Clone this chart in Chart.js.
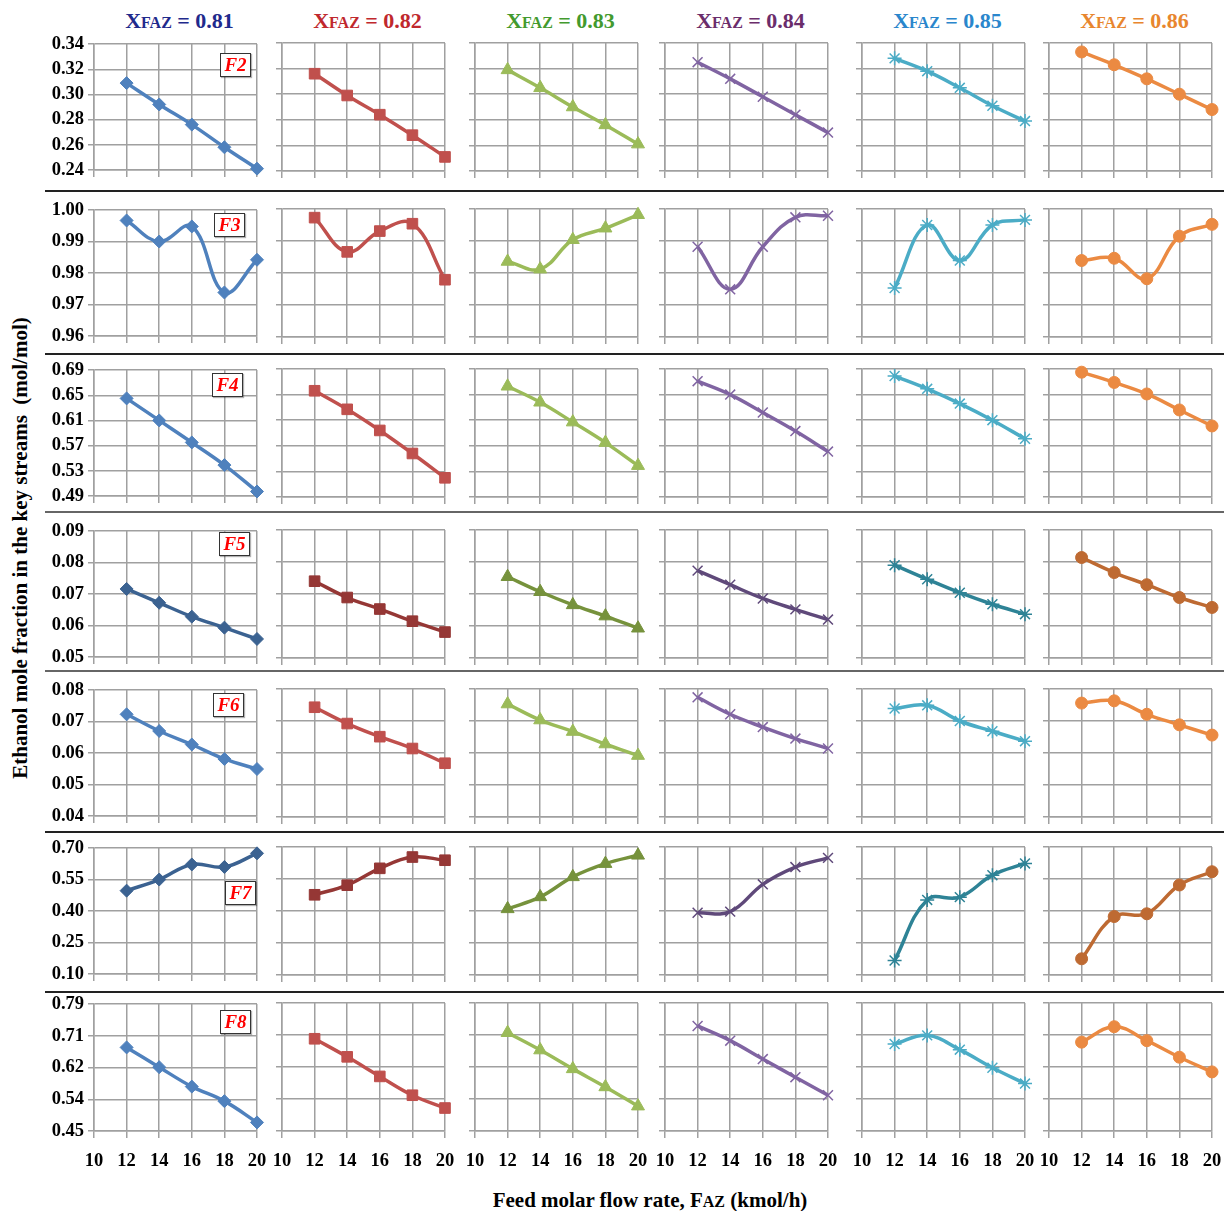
<!DOCTYPE html>
<html>
<head>
<meta charset="utf-8">
<script src="https://cdn.jsdelivr.net/npm/chart.js@4.4.0/dist/chart.umd.min.js"></script>
<style>
  body { margin: 0; background: #fff; }
  #page {
    position: relative; width: 1224px; height: 1211px; overflow: hidden; background: #fff;
    font-family: "Liberation Serif", "Times New Roman", serif; font-weight: bold; color: #000;
  }
  #page canvas { position: absolute; }
  .head { position: absolute; top: 8px; width: 200px; text-align: center; font-size: 22px; line-height: 26px; white-space: nowrap; }
  .head .small { font-size: 16px; }
  .small { font-size: 15px; }
  .sep { position: absolute; left: 45px; right: 0; height: 2px; }
  .tag {
    position: absolute; width: 29px; height: 22px; border: 1.5px solid #333; background: #fff;
    color: #f00; font-style: italic; font-size: 19px; line-height: 22px; text-align: center;
    box-shadow: 1px 1px 1px rgba(0,0,0,0.3);
  }
  #ytitle {
    position: absolute; left: -250px; top: 535px; width: 540px; text-align: center;
    font-size: 21px; line-height: 26px; transform: rotate(-90deg); white-space: nowrap;
  }
  #xtitle { position: absolute; left: 400px; top: 1187px; width: 500px; text-align: center; font-size: 21px; line-height: 26px; white-space: nowrap; }
  #xtitle .small { font-size: 16px; }
</style>
</head>
<body>
<div id="page">
  <div id="ytitle">Ethanol mole fraction in the key streams&nbsp;&nbsp;(mol/mol)</div>
  <div id="xtitle">Feed molar flow rate, F<span class="small">AZ</span> (kmol/h)</div>
</div>
<script>
// feed molar flow rate (kmol/h) and the XFAZ value of each column
const flowRates = [12, 14, 16, 18, 20];
const flowTicks = ['10', '12', '14', '16', '18', '20'];
const xfazLabels = ['0.81', '0.82', '0.83', '0.84', '0.85', '0.86'];
const streamNames = ['F2', 'F3', 'F4', 'F5', 'F6', 'F7', 'F8'];

// ethanol mole fraction, one row per XFAZ (0.81 .. 0.86), one value per flow rate
const f2Values = [
  [0.309, 0.292, 0.276, 0.258, 0.241],
  [0.316, 0.299, 0.284, 0.268, 0.251],
  [0.319, 0.305, 0.290, 0.276, 0.261],
  [0.325, 0.312, 0.298, 0.284, 0.270],
  [0.328, 0.318, 0.305, 0.291, 0.279],
  [0.333, 0.323, 0.312, 0.300, 0.288]
];
const f3Values = [
  [0.9967, 0.9900, 0.9948, 0.9738, 0.9842],
  [0.9973, 0.9866, 0.9931, 0.9954, 0.9779],
  [0.9836, 0.9812, 0.9904, 0.9940, 0.9982],
  [0.9882, 0.9749, 0.9882, 0.9974, 0.9979],
  [0.9753, 0.9950, 0.9839, 0.9950, 0.9966],
  [0.9839, 0.9846, 0.9782, 0.9915, 0.9952]
];
const f4Values = [
  [0.645, 0.610, 0.575, 0.539, 0.497],
  [0.656, 0.627, 0.594, 0.558, 0.520],
  [0.663, 0.638, 0.607, 0.575, 0.539],
  [0.671, 0.650, 0.622, 0.593, 0.561],
  [0.679, 0.659, 0.636, 0.610, 0.581],
  [0.685, 0.669, 0.651, 0.626, 0.601]
];
const f5Values = [
  [0.0716, 0.0672, 0.0628, 0.0593, 0.0557],
  [0.0740, 0.0689, 0.0653, 0.0615, 0.0581],
  [0.0754, 0.0707, 0.0666, 0.0631, 0.0593],
  [0.0773, 0.0729, 0.0686, 0.0652, 0.0620],
  [0.0790, 0.0746, 0.0704, 0.0668, 0.0637],
  [0.0814, 0.0767, 0.0729, 0.0689, 0.0658]
];
const f6Values = [
  [0.0723, 0.0670, 0.0627, 0.0581, 0.0549],
  [0.0743, 0.0692, 0.0651, 0.0614, 0.0568],
  [0.0753, 0.0703, 0.0667, 0.0628, 0.0592],
  [0.0774, 0.0721, 0.0681, 0.0645, 0.0614],
  [0.0739, 0.0749, 0.0700, 0.0668, 0.0637],
  [0.0756, 0.0763, 0.0721, 0.0688, 0.0656]
];
const f7Values = [
  [0.497, 0.550, 0.622, 0.610, 0.675],
  [0.476, 0.521, 0.600, 0.653, 0.638],
  [0.410, 0.466, 0.560, 0.622, 0.661],
  [0.392, 0.397, 0.525, 0.606, 0.649],
  [0.168, 0.452, 0.465, 0.568, 0.623],
  [0.176, 0.374, 0.387, 0.522, 0.584]
];
const f8Values = [
  [0.674, 0.621, 0.569, 0.530, 0.473],
  [0.695, 0.647, 0.595, 0.545, 0.511],
  [0.711, 0.665, 0.615, 0.567, 0.516],
  [0.729, 0.690, 0.641, 0.593, 0.545],
  [0.681, 0.704, 0.666, 0.618, 0.576],
  [0.686, 0.727, 0.690, 0.646, 0.607]
];

// y tick labels of each row, bottom to top
const f2Ticks = ['0.24', '0.26', '0.28', '0.30', '0.32', '0.34'];
const f3Ticks = ['0.96', '0.97', '0.98', '0.99', '1.00'];
const f4Ticks = ['0.49', '0.53', '0.57', '0.61', '0.65', '0.69'];
const f5Ticks = ['0.05', '0.06', '0.07', '0.08', '0.09'];
const f6Ticks = ['0.04', '0.05', '0.06', '0.07', '0.08'];
const f7Ticks = ['0.10', '0.25', '0.40', '0.55', '0.70'];
const f8Ticks = ['0.45', '0.54', '0.62', '0.71', '0.79'];

const rowValues = [f2Values, f3Values, f4Values, f5Values, f6Values, f7Values, f8Values];
const rowTicks = [f2Ticks, f3Ticks, f4Ticks, f5Ticks, f6Ticks, f7Ticks, f8Ticks];

// styling / layout
const lineColors = ['#4F81BD', '#C0504D', '#9BBB59', '#8064A2', '#4BACC6', '#EB8A42'];
const darkColors = ['#3B6291', '#953735', '#76923C', '#5F497A', '#2E8396', '#BE6A32'];
const darkRows = [3, 5];
const headColors = ['#1F2A8C', '#C0282D', '#439A2E', '#6B2D6B', '#2A86CC', '#E8862E'];
const markers = ['rectRot', 'rect', 'triangle', 'crossRot', 'star', 'circle'];
const markerSizes = [6.5, 7.5, 7.5, 7, 7, 6];
const plotLefts = [94, 282, 475, 665, 862, 1049];
const plotTops = [43, 209, 369, 530, 689, 847, 1003];
const plotW = 163, plotH = 128;
const sepTops = [190, 353, 511, 670, 831, 991];
const sepColors = ['#222', '#222', '#666', '#666', '#222', '#222'];
const tagBoxes = [[220, 53], [214, 213], [212, 373], [219, 532], [213, 693], [225, 881], [220, 1010]];
const gridColor = '#a0a0a0';
const tickFont = { family: "'Liberation Serif', 'Times New Roman', serif", size: 18.5, weight: 'bold' };

const page = document.getElementById('page');

sepTops.forEach((t, i) => {
  const d = document.createElement('div');
  d.className = 'sep';
  d.style.top = t + 'px';
  d.style.background = sepColors[i];
  page.appendChild(d);
});

xfazLabels.forEach((lab, c) => {
  const d = document.createElement('div');
  d.className = 'head';
  d.style.left = (plotLefts[c] + plotW / 2 + 4 - 100) + 'px';
  d.style.color = headColors[c];
  d.innerHTML = 'X<span class="small">FAZ</span> = ' + lab;
  page.appendChild(d);
});

function makePanel(r, c) {
  const showY = c === 0, showX = r === 6;
  const yW = showY ? 60 : (showX ? 26 : 12);
  const xH = showX ? 42 : 14;
  const padTop = 14, padRight = showX ? 26 : 16;
  const canvas = document.createElement('canvas');
  canvas.width = yW + plotW + padRight;
  canvas.height = padTop + plotH + xH;
  canvas.style.left = (plotLefts[c] - yW) + 'px';
  canvas.style.top = (plotTops[r] - padTop) + 'px';
  page.appendChild(canvas);

  const labels = rowTicks[r];
  const yMin = parseFloat(labels[0]);
  const yMax = parseFloat(labels[labels.length - 1]);
  const col = darkRows.includes(r) ? darkColors[c] : lineColors[c];
  const thin = markers[c] === 'crossRot' || markers[c] === 'star';

  new Chart(canvas, {
    type: 'line',
    data: {
      datasets: [{
        data: flowRates.map((x, i) => ({ x, y: rowValues[r][c][i] })),
        borderColor: col,
        backgroundColor: col,
        borderWidth: 3.5,
        tension: 0.4,
        pointStyle: markers[c],
        pointRadius: markerSizes[c],
        pointBackgroundColor: col,
        pointBorderColor: col,
        pointBorderWidth: thin ? 1.5 : 1,
        clip: false
      }]
    },
    options: {
      responsive: false,
      animation: false,
      devicePixelRatio: 1,
      layout: { padding: { top: padTop, right: padRight, left: 0, bottom: 0 } },
      plugins: { legend: { display: false }, tooltip: { enabled: false } },
      scales: {
        x: {
          type: 'linear', min: 10, max: 20,
          ticks: {
            stepSize: 2, display: showX, font: tickFont, color: '#000',
            padding: 12, maxRotation: 0, autoSkip: false,
            callback: (v, i) => flowTicks[i]
          },
          grid: { color: gridColor, lineWidth: 1.5, tickLength: 7 },
          border: { color: gridColor, width: 1.5 },
          afterFit: s => { s.height = xH; }
        },
        y: {
          min: yMin, max: yMax,
          ticks: {
            stepSize: (yMax - yMin) / (labels.length - 1), display: showY,
            font: tickFont, color: '#000', padding: 4, autoSkip: false,
            callback: (v, i) => labels[i]
          },
          grid: { color: gridColor, lineWidth: 1.5, tickLength: 6 },
          border: { color: gridColor, width: 1.5 },
          afterFit: s => { s.width = yW; }
        }
      }
    }
  });
}

for (let r = 0; r < streamNames.length; r++) {
  for (let c = 0; c < xfazLabels.length; c++) makePanel(r, c);
}

streamNames.forEach((name, r) => {
  const d = document.createElement('div');
  d.className = 'tag';
  d.style.left = tagBoxes[r][0] + 'px';
  d.style.top = tagBoxes[r][1] + 'px';
  d.textContent = name;
  page.appendChild(d);
});
</script>
</body>
</html>
